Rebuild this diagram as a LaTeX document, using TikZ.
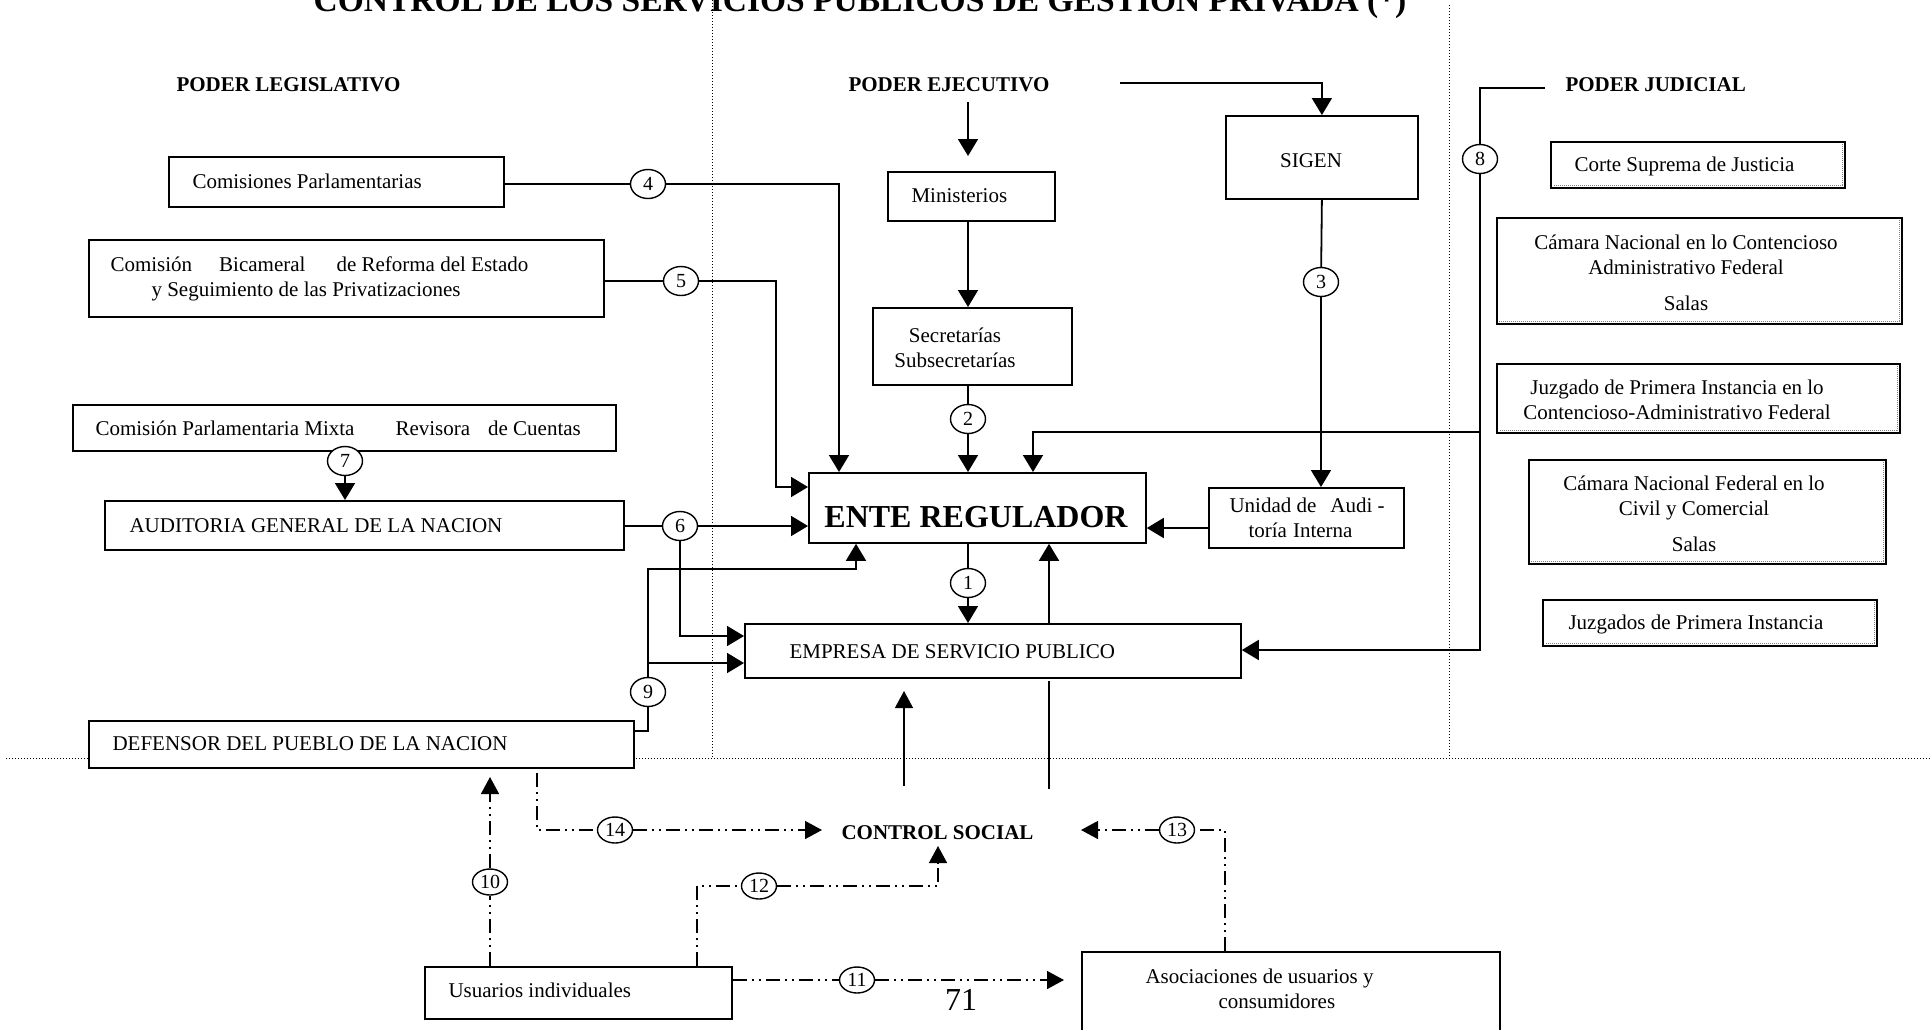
\documentclass[tikz,border=0pt]{standalone}
\usepackage{fontspec}
\setmainfont{Liberation Serif}
\usetikzlibrary{arrows.meta,shapes.geometric,calc}
\newcommand{\jshade}[1]{\draw[sepl] ($(#1.north east)+(-3,3)$) -- ($(#1.south east)+(-3,-3)$) -- ($(#1.south west)+(3,-3)$);}
\begin{document}
\begin{tikzpicture}[x=1pt,y=-1pt,
  box/.style={draw,line width=1.8pt,fill=white,rectangle,inner sep=0pt,anchor=north west},
  txt/.style={font=\fontsize{21}{25}\selectfont},
  btxt/.style={font=\fontsize{21}{25}\selectfont\bfseries},
  num/.style={draw,ellipse,line width=1.4pt,fill=white,inner sep=0pt,minimum width=35pt,minimum height=29pt,font=\fontsize{20}{20}\selectfont},
  numl/.style={num,minimum height=26pt},
  con/.style={line width=1.8pt},
  arr/.style={con,-{Triangle[length=17pt,width=20pt]}},
  dd/.style={line width=1.5pt,dash pattern=on 14pt off 5pt on 2pt off 5pt on 2pt off 5pt},
  darr/.style={dd,-{Triangle[length=17pt,width=18pt]}},
  sepd/.style={line width=1pt,dash pattern=on 1.2pt off 1.8pt},
  sepl/.style={line width=1pt,gray,dash pattern=on 1pt off 1pt},
]
\clip (0,0) rectangle (1931,1029);
\fill[white] (0,0) rectangle (1931,1029);

% separators
\draw[sepd] (712,0) -- (712,758);
\draw[sepd] (1449,5) -- (1449,758);
\draw[sepd] (6,758) -- (1931,758);

% title and headings
\node[font=\fontsize{33.5}{34}\selectfont\bfseries,anchor=base] (title) at (860,11) {CONTROL DE LOS SERVICIOS PUBLICOS DE GESTION PRIVADA (*)};
\node[btxt,anchor=west] (legis) at (173,85) {PODER LEGISLATIVO};
\node[btxt,anchor=west] (ejec) at (845,85) {PODER EJECUTIVO};
\node[btxt,anchor=west] (judic) at (1562,85) {PODER JUDICIAL};
\node[btxt,anchor=west] (csoc) at (838,833) {CONTROL SOCIAL};
\node[font=\fontsize{32}{32}\selectfont] (page) at (961,1000) {71};

% legislative boxes
\node[box,minimum width=335pt,minimum height=50pt] (comP) at (168,156) {};
\node[txt,anchor=west] (comPt) at (189,181) {Comisiones Parlamentarias};
\node[box,minimum width=515pt,minimum height=77pt] (comB) at (88,239) {};
\node[txt,anchor=west,align=left] (comBt) at (107,279) {Comisión\hspace{27pt}Bicameral\hspace{31pt}de Reforma del Estado\\\hspace*{41pt}y Seguimiento de las Privatizaciones};
\node[box,minimum width=543pt,minimum height=46pt] (comM) at (72,404) {};
\node[txt,anchor=west] (comMt) at (92,428) {Comisión Parlamentaria Mixta\hspace{41pt}Revisora\hspace{18pt}de Cuentas};
\node[box,minimum width=519pt,minimum height=49pt] (aud) at (104,500) {};
\node[txt,anchor=west] (audt) at (126,526) {AUDITORIA GENERAL DE LA NACION};
\node[box,minimum width=545pt,minimum height=47pt] (def) at (88,720) {};
\node[txt,anchor=west] (deft) at (109,744) {DEFENSOR DEL PUEBLO DE LA NACION};

% executive boxes
\node[box,minimum width=167pt,minimum height=49pt] (mini) at (887,171) {};
\node[txt,anchor=west] (minit) at (908,196) {Ministerios};
\node[box,minimum width=199pt,minimum height=77pt] (secr) at (872,307) {};
\node[txt,align=center] (secrt) at (955,348) {Secretarías\\Subsecretarías};
\node[box,minimum width=337pt,minimum height=70pt] (ente) at (808,472) {};
\node[font=\fontsize{32}{32}\selectfont\bfseries] (entet) at (976,517) {ENTE REGULADOR};
\node[box,minimum width=496pt,minimum height=54pt] (emp) at (744,623) {};
\node[txt,anchor=west] (empt) at (786,652) {EMPRESA DE SERVICIO PUBLICO};
\node[box,minimum width=192pt,minimum height=83pt] (sigen) at (1225,115) {};
\node[txt] (sigent) at (1311,161) {SIGEN};
\node[box,minimum width=195pt,minimum height=60pt] (unid) at (1208,487) {};
\node[txt,anchor=west,align=left] (unidt) at (1226,518) {Unidad de\hspace{14pt}Audi -\\\hspace*{19pt}toría\hspace{6pt}Interna};

% judicial boxes
\node[box,minimum width=294pt,minimum height=46pt] (corte) at (1550,141) {};
\node[txt,anchor=west] (cortet) at (1571,166) {Corte Suprema de Justicia};
\node[box,minimum width=405pt,minimum height=106pt] (cam1) at (1496,217) {};
\node[txt,align=center] (cam1t) at (1686,273) {Cámara Nacional en lo Contencioso\\Administrativo Federal\\[11pt]Salas};
\node[box,minimum width=403pt,minimum height=69pt] (juz1) at (1496,363) {};
\node[txt,align=center] (juz1t) at (1677,400) {Juzgado de Primera Instancia en lo\\Contencioso-Administrativo Federal};
\node[box,minimum width=357pt,minimum height=104pt] (cam2) at (1528,459) {};
\node[txt,align=center] (cam2t) at (1694,514) {Cámara Nacional Federal en lo\\Civil y Comercial\\[11pt]Salas};
\node[box,minimum width=334pt,minimum height=46pt] (juz2) at (1542,599) {};
\node[txt,anchor=west] (juz2t) at (1565,624) {Juzgados de Primera Instancia};
\jshade{corte}\jshade{cam1}\jshade{juz1}\jshade{cam2}\jshade{juz2}

% social boxes
\node[box,minimum width=307pt,minimum height=52pt] (usu) at (424,966) {};
\node[txt,anchor=west] (usut) at (445,990) {Usuarios individuales};
\node[box,minimum width=418pt,minimum height=90pt] (aso) at (1081,951) {};
\node[txt,anchor=west,align=left] (asot) at (1142,989) {Asociaciones de usuarios y\\\hspace*{73pt}consumidores};

% numbered circles
\node[num] (n4) at (648,184) {4};
\node[num] (n5) at (681,281) {5};
\node[num] (n6) at (680,526) {6};
\node[num] (n7) at (345,461) {7};
\node[num] (n9) at (648,692) {9};
\node[num] (n1) at (968,583) {1};
\node[num] (n2) at (968,419) {2};
\node[num] (n3) at (1321,282) {3};
\node[num] (n8) at (1480,159) {8};
\node[numl] (n10) at (490,882) {10};
\node[numl] (n11) at (857,980) {11};
\node[numl] (n12) at (759,886) {12};
\node[numl] (n13) at (1177,830) {13};
\node[numl] (n14) at (615,830) {14};

% legislative connectors
\draw[arr] (comP.east |- n4) -- (n4) -- (839,184) -- (839,184 |- ente.north);
\draw[arr] (comB.east |- n5) -- (n5) -- (776,281) -- (776,487) -- (776,487 -| ente.west);
\draw[arr] (aud.east |- n6) -- (n6) -- (n6 -| ente.west);
\draw[arr] (n6) -- (680,636) -- (680,636 -| emp.west);
\draw[arr] (n7) -- (n7 |- aud.north);
\draw[con] (def.east |- 0,731) -- (648,731) -- (n9);
\draw[arr] (n9) -- (648,569) -- (856,569) -- (856,569 |- ente.south);
\draw[arr] (648,663) -- (648,663 -| emp.west);

% executive connectors
\draw[arr] (968,102) -- (968,156);
\draw[arr] (968,0 |- mini.south) -- (968,0 |- secr.north);
\draw[con] (968,0 |- secr.south) -- (n2);
\draw[arr] (n2) -- (n2 |- ente.north);
\draw[con] (968,0 |- ente.south) -- (n1);
\draw[arr] (n1) -- (n1 |- emp.north);
\draw[arr] (1049,0 |- emp.north) -- (1049,0 |- ente.south);
\draw[arr] (1120,83) -- (sigen.north |- 0,83) -- (sigen.north);
\draw[con] (sigen.south) -- (n3);
\draw[arr] (n3) -- (n3 |- unid.north);
\draw[arr] (unid.west |- 0,528) -- (ente.east |- 0,528);

% judicial connectors
\draw[con] (1545,88) -- (1480,88) -- (n8);
\draw[arr] (n8) -- (1480,650) -- (emp.east |- 0,650);
\draw[arr] (1480,432) -- (1033,432) -- (1033,0 |- ente.north);

% empresa - control social
\draw[line width=1.3pt,-{Triangle[length=17pt,width=18pt]}] (904,786) -- (904,691);
\draw[line width=1.3pt] (1049,681) -- (1049,789);

% social control connectors
\draw[dd] (usu.north -| n10) -- (n10);
\draw[darr] (n10) -- (490,777);
\draw[dd] (537,773) -- (537,830) -- (n14);
\draw[darr] (n14) -- (822,830);
\draw[dd] (697,0 |- usu.north) -- (697,886) -- (n12);
\draw[darr] (n12) -- (938,886) -- (938,846);
\draw[dd] (1225,0 |- aso.north) -- (1225,830) -- (n13);
\draw[darr] (n13) -- (1081,830);
\draw[dd] (usu.east |- n11) -- (n11);
\draw[darr] (n11) -- (1064,980);
\end{tikzpicture}
\end{document}
